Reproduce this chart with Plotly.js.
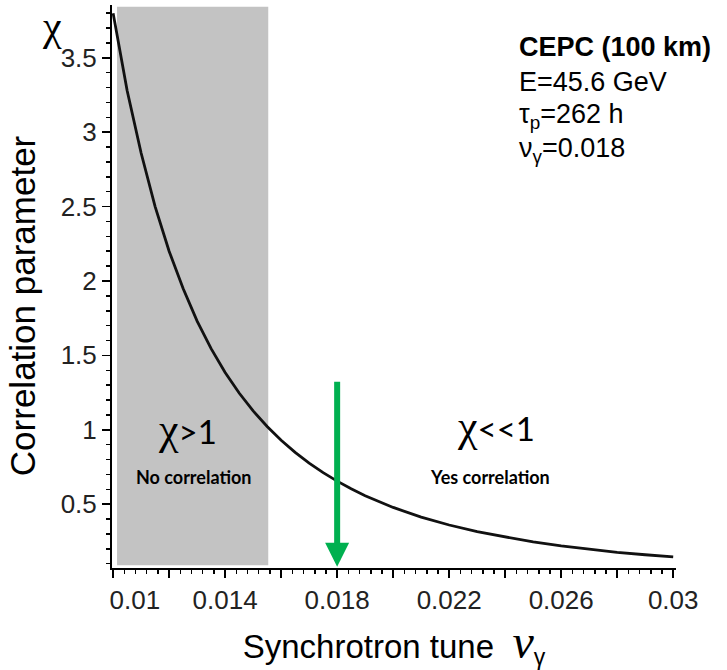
<!DOCTYPE html>
<html><head><meta charset="utf-8">
<script src="https://cdn.plot.ly/plotly-3.0.1.min.js"></script>
<style>html,body{margin:0;padding:0;background:#fff}</style>
</head><body><div id="chart" style="width:727px;height:670px"></div>
<script>
// Synchrotron tune (x) and correlation parameter chi (y)
const nuValues  = [0.0100,0.0105,0.0110,0.0115,0.0120,0.0125,0.0130,0.0135,0.0140,0.0145,
                   0.0150,0.0155,0.0160,0.0165,0.0170,0.0175,0.0180,0.0185,0.0190,0.0195,
                   0.0200,0.0210,0.0220,0.0230,0.0240,0.0250,0.0260,0.0270,0.0280,0.0290,0.0300];
const chiValues = [3.80,3.28,2.86,2.50,2.20,1.95,1.73,1.545,1.385,1.247,
                   1.127,1.022,0.930,0.848,0.776,0.712,0.655,0.603,0.557,0.515,
                   0.478,0.413,0.360,0.315,0.278,0.246,0.219,0.196,0.176,0.160,0.146];
const xTickVals = [0.010,0.012,0.014,0.016,0.018,0.020,0.022,0.024,0.026,0.028,0.030];
const xTickText = ["\u00a0\u00a0\u00a0\u00a0\u00a0\u00a00.01","","0.014","","0.018","","0.022","","0.026","","0.03"];
const yTickVals = [0.5,1,1.5,2,2.5,3,3.5];
const yTickText = ["0.5","1","1.5","2","2.5","3","3.5"];
const noCorrelationRange = [0.01014, 0.01554];   // shaded region, chi > 1
const workingTune = 0.018;                        // nu_gamma of CEPC
const arrowTop = 1.333, arrowTip = 0.08;          // green arrow span in chi

const sans = 'Liberation Sans, Arial, sans-serif';
const tickFont = {family: sans, size: 26, color: '#222'};
const calib = 'Lato, Open Sans, sans-serif';
const infoFont = {family: sans, size: 27, color: '#000'};

const trace = {
  x: nuValues, y: chiValues, type: 'scatter', mode: 'lines',
  line: {color: '#111', width: 2.8}, hoverinfo: 'skip', showlegend: false
};

const layout = {
  width: 727, height: 670,
  margin: {l: 112, r: 51, t: 5, b: 102},
  paper_bgcolor: '#fff', plot_bgcolor: '#fff',
  showlegend: false,
  xaxis: {
    range: [0.00996, 0.0301], showgrid: false, zeroline: false,
    showline: true, linecolor: '#000', linewidth: 2,
    tickmode: 'array', tickvals: xTickVals, ticktext: xTickText,
    ticks: 'outside', ticklen: 8, tickwidth: 1.5, tickcolor: '#000',
    tickfont: tickFont,
    minor: {dtick: 0.0004, tick0: 0.01, ticks: 'outside', ticklen: 4, tickwidth: 1.5, tickcolor: '#000', showgrid: false},
    title: {text: 'Synchrotron tune\u00a0 <span style="font-family:Liberation Serif;font-style:italic;font-size:48px">ν</span><sub>γ</sub>',
            font: {family: sans, size: 33, color: '#000'}, standoff: 30},
    automargin: false
  },
  yaxis: {
    range: [0.071, 3.855], showgrid: false, zeroline: false,
    showline: true, linecolor: '#000', linewidth: 2,
    tickmode: 'array', tickvals: yTickVals, ticktext: yTickText,
    ticks: 'outside', ticklen: 8, tickwidth: 1.5, tickcolor: '#000',
    tickfont: tickFont,
    minor: {dtick: 0.1, tick0: 0, ticks: 'outside', ticklen: 4, tickwidth: 1.5, tickcolor: '#000', showgrid: false},
    title: {text: 'Correlation parameter<span>\u00a0\u00a0\u00a0\u00a0</span>',
            font: {family: sans, size: 35, color: '#000'}, standoff: 14},
    automargin: false
  },
  shapes: [{
    type: 'rect', xref: 'x', yref: 'paper', layer: 'below',
    x0: noCorrelationRange[0], x1: noCorrelationRange[1], y0: 0.005, y1: 0.997,
    fillcolor: '#c3c3c3', line: {width: 0}
  }],
  annotations: [
    {xref: 'x', yref: 'y', x: workingTune, y: arrowTip, axref: 'x', ayref: 'y', ax: workingTune, ay: arrowTop,
     text: '', showarrow: true, arrowhead: 2, arrowsize: 0.8, arrowwidth: 6, arrowcolor: '#00b050'},
    {xref: 'paper', yref: 'paper', x: -0.107, y: 0.962, xanchor: 'center', yanchor: 'middle', text: 'χ', showarrow: false,
     font: {family: 'Liberation Serif, serif', size: 42, color: '#000'}},
    {xref: 'x', yref: 'y', x: 0.01266, y: 1.0, xanchor: 'center', yanchor: 'middle', showarrow: false,
     text: '<span style="font-family:Liberation Serif;font-size:44px">χ</span>>1', font: {family: calib, size: 33, color: '#000'}},
    {xref: 'x', yref: 'y', x: 0.012875, y: 0.681, xanchor: 'center', yanchor: 'middle', showarrow: false,
     text: '<b>No correlation</b>', font: {family: calib, size: 18, color: '#000'}},
    {xref: 'x', yref: 'y', x: 0.02368, y: 1.02, xanchor: 'center', yanchor: 'middle', showarrow: false,
     text: '<span style="font-family:Liberation Serif;font-size:44px">χ</span><<1', font: {family: calib, size: 33, color: '#000'}},
    {xref: 'x', yref: 'y', x: 0.023464, y: 0.681, xanchor: 'center', yanchor: 'middle', showarrow: false,
     text: '<b>Yes correlation</b>', font: {family: calib, size: 18, color: '#000'}},
    {xref: 'paper', yref: 'paper', x: 0.718, y: 0.925, xanchor: 'left', yanchor: 'middle', showarrow: false,
     text: '<b>CEPC (100 km)</b>', font: infoFont},
    {xref: 'paper', yref: 'paper', x: 0.718, y: 0.864, xanchor: 'left', yanchor: 'middle', showarrow: false,
     text: 'E=45.6 GeV', font: infoFont},
    {xref: 'paper', yref: 'paper', x: 0.718, y: 0.803, xanchor: 'left', yanchor: 'middle', showarrow: false,
     text: 'τ<sub>p</sub>=262 h', font: infoFont},
    {xref: 'paper', yref: 'paper', x: 0.718, y: 0.742, xanchor: 'left', yanchor: 'middle', showarrow: false,
     text: 'ν<sub>γ</sub>=0.018', font: infoFont}
  ]
};

Plotly.newPlot('chart', [trace], layout, {displayModeBar: false, staticPlot: true});
</script>
</body></html>
